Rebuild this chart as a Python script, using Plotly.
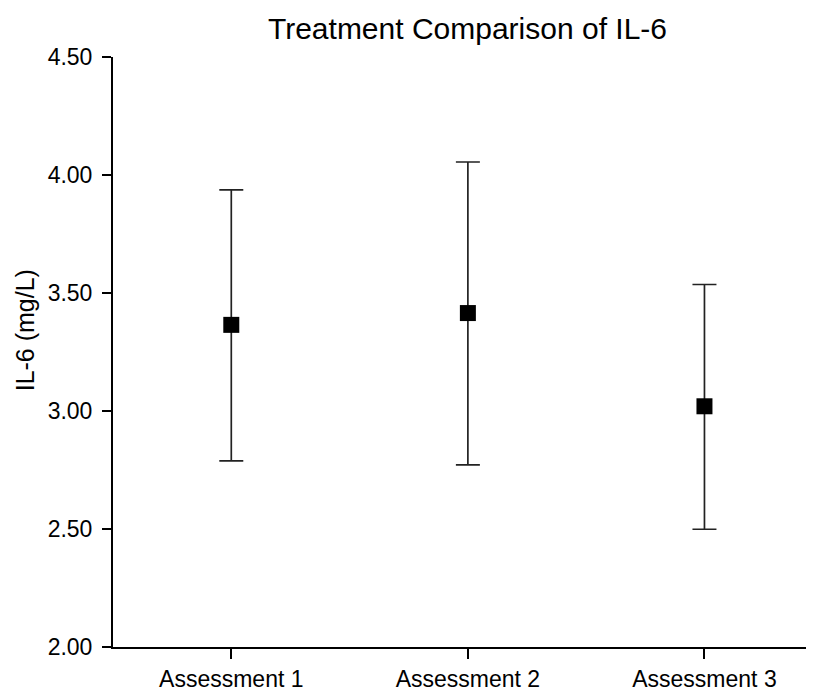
import plotly.graph_objects as go

categories = ["Assessment 1", "Assessment 2", "Assessment 3"]
means = [3.365, 3.415, 3.02]
upper = [3.937, 4.055, 3.536]
lower = [2.789, 2.772, 2.499]
yticks = [2.0, 2.5, 3.0, 3.5, 4.0, 4.5]
ytick_labels = ["2.00", "2.50", "3.00", "3.50", "4.00", "4.50"]

err_plus = [u - m for u, m in zip(upper, means)]
err_minus = [m - l for m, l in zip(means, lower)]

FONT = "Liberation Sans, Arial, sans-serif"

# page has an 8px body margin, so figure is sized to fill the remaining window
W, H = 806, 684
L, T, B = 105, 49, 43

fig = go.Figure()
fig.add_trace(go.Scatter(
    x=list(range(len(categories))),
    y=means,
    mode="markers",
    marker=dict(symbol="square", size=16, color="black"),
    error_y=dict(type="data", symmetric=False, array=err_plus, arrayminus=err_minus,
                 color="#222222", thickness=1.7, width=12),
    showlegend=False,
))

fig.update_layout(
    width=W, height=H,
    margin=dict(l=L, r=0, t=T, b=B, pad=0),
    paper_bgcolor="white", plot_bgcolor="white",
    font=dict(family=FONT, color="black", size=23),
    title=dict(text="Treatment Comparison of IL-6", x=459.5 / W, xanchor="center",
               y=1 - 20 / H, yanchor="middle", font=dict(size=30, family=FONT, color="black")),
    xaxis=dict(range=[-0.5, 2.463], tickmode="array", tickvals=list(range(len(categories))),
               ticktext=categories, showgrid=False, zeroline=False, showline=True,
               linecolor="black", linewidth=2, ticks="outside", ticklen=10, tickwidth=1.5,
               tickcolor="black", tickfont=dict(size=23, family=FONT)),
    yaxis=dict(range=[2.0, 4.5], tickmode="array", tickvals=yticks, ticktext=ytick_labels,
               showgrid=False, zeroline=False, showline=True, linecolor="black", linewidth=2,
               ticks="outside", ticklen=9, tickwidth=1.5, tickcolor="black",
               ticklabelstandoff=5, tickfont=dict(size=23, family=FONT)),
    annotations=[dict(text="IL-6 (mg/L)", textangle=-90, x=(17 - L) / (W - L),
                      y=(640.5 - 323) / 591.5,
                      xref="paper", yref="paper", xanchor="center", yanchor="middle",
                      showarrow=False, font=dict(size=25, family=FONT, color="black"))],
)

fig.write_html("out.html")
